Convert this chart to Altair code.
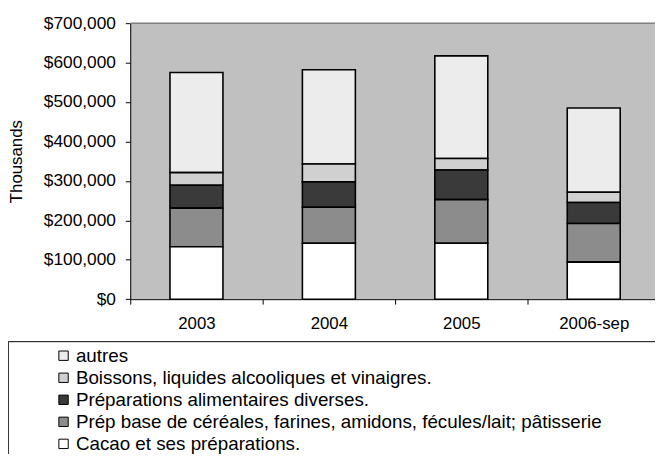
import altair as alt
import pandas as pd

years = ["2003", "2004", "2005", "2006-sep"]
series = [
    "autres",
    "Boissons, liquides alcooliques et  vinaigres.",
    "Préparations alimentaires diverses.",
    "Prép base de céréales, farines, amidons,  fécules/lait; pâtisserie",
    "Cacao et ses préparations.",
]
# values in thousands
autres = [254000, 239000, 260000, 214000]
boissons = [32000, 45500, 29500, 26000]
prep_div = [58000, 64500, 75000, 53000]
prep_base = [98000, 91000, 110500, 98000]
cacao = [133000, 142000, 142000, 94000]

fills = ["#ececec", "#d0d0d0", "#3a3a3a", "#8c8c8c", "#ffffff"]
stack_rank = [4, 3, 2, 1, 0]

values_by_series = [autres, boissons, prep_div, prep_base, cacao]
rows = []
for s, vals, r in zip(series, values_by_series, stack_rank):
    for y, v in zip(years, vals):
        rows.append({"year": y, "series": s, "value": v, "rank": r})
df = pd.DataFrame(rows)
one = pd.DataFrame({"k": [0]})

FONT = "Liberation Sans"

bars = alt.Chart(df).mark_bar(
    stroke="black", strokeWidth=1.6, width=alt.RelativeBandSize(0.4)
).encode(
    x=alt.X(
        "year:N",
        sort=years,
        scale=alt.Scale(range=[0, 536], paddingInner=0, paddingOuter=0),
        axis=alt.Axis(
            title=None,
            labelAngle=0,
            tickBand="extent",
            tickSize=5,
            tickColor="black",
            domainColor="black",
            labelColor="black",
            labelFontSize=17,
            labelPadding=12,
        ),
    ),
    y=alt.Y(
        "value:Q",
        stack="zero",
        scale=alt.Scale(domain=[0, 700000], nice=False),
        axis=alt.Axis(
            title="Thousands",
            values=[0, 100000, 200000, 300000, 400000, 500000, 600000, 700000],
            format="$,.0f",
            grid=False,
            tickSize=5,
            tickColor="black",
            domainColor="black",
            labelColor="black",
            labelFontSize=17.5,
            labelPadding=10,
            titleFontSize=17,
            titleFontWeight="normal",
            titleColor="black",
            titleX=-114.7,
            titleY=139.6,
            titleAngle=270,
            titleAlign="center",
            titleBaseline="middle",
        ),
    ),
    color=alt.Color(
        "series:N",
        sort=series,
        scale=alt.Scale(domain=series, range=fills),
        legend=alt.Legend(
            title=None,
            orient="none",
            legendX=-77,
            legendY=327,
            symbolType="square",
            symbolSize=90,
            symbolStrokeColor="black",
            symbolStrokeWidth=1,
            labelFontSize=19,
            labelColor="black",
            labelOffset=3,
            labelLimit=700,
            rowPadding=2.3,
            padding=0,
        ),
    ),
    order=alt.Order("rank:Q"),
)

box = alt.Chart(one).mark_rect(fill="white", stroke="black", strokeWidth=1).encode(
    x=alt.value(-123.4), x2=alt.value(560), y=alt.value(322.3), y2=alt.value(470)
)
topline = alt.Chart(one).mark_rule(color="#808080", strokeWidth=1.5).encode(
    x=alt.value(0), x2=alt.value(560), y=alt.value(0)
)

chart = alt.layer(box, topline, bars).properties(
    width=531,
    height=279.3,
    autosize="none",
    padding={"left": 123.7, "top": 12.7, "right": 0, "bottom": 154},
).configure(font=FONT).configure_view(fill="#c0c0c0", strokeWidth=0)

chart.save("out.html", embed_options={"renderer": "svg", "actions": False})
